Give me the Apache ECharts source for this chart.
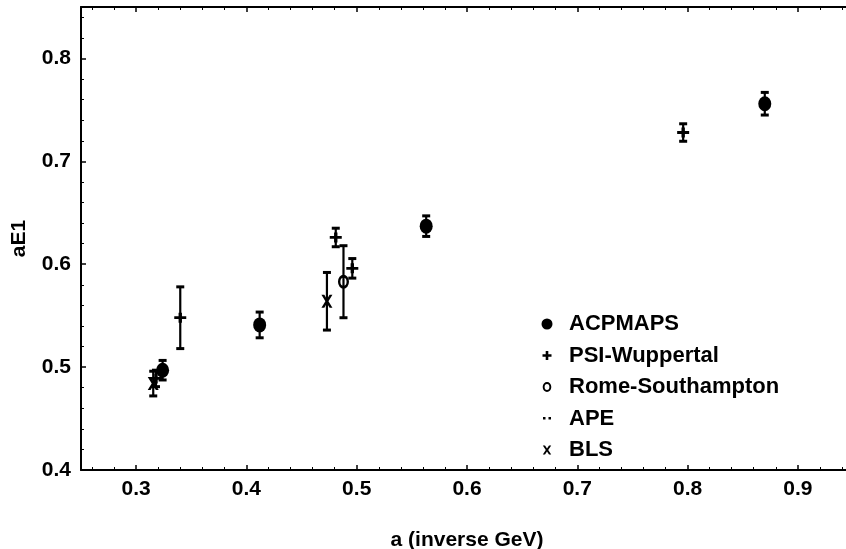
<!DOCTYPE html>
<html><head><meta charset="utf-8">
<script src="https://cdn.jsdelivr.net/npm/echarts@6/dist/echarts.min.js"></script>
<style>html,body{margin:0;padding:0;background:#fff}#c{width:846px;height:549px}</style>
</head><body><div id="c"></div>
<script>
// ---- data ----
const xTickValues = [0.3, 0.4, 0.5, 0.6, 0.7, 0.8, 0.9];
const yTickValues = [0.4, 0.5, 0.6, 0.7, 0.8];
const seriesNames = ['ACPMAPS', 'PSI-Wuppertal', 'Rome-Southampton', 'APE', 'BLS'];

const acpX = [0.324, 0.412, 0.563, 0.870];
const acpY = [0.497, 0.541, 0.637, 0.756];
const acpErr = [0.0095, 0.0125, 0.010, 0.011];

const psiX = [0.318, 0.340, 0.481, 0.496, 0.796];
const psiY = [0.489, 0.548, 0.626, 0.596, 0.728];
const psiErr = [0.008, 0.030, 0.009, 0.0095, 0.0085];

const romeX = [0.488];
const romeY = [0.583];
const romeErr = [0.035];

const apeX = [];
const apeY = [];
const apeErr = [];

const blsX = [0.3155, 0.473];
const blsY = [0.484, 0.564];
const blsErr = [0.012, 0.028];

// ---- styling ----
const FONT = 'Liberation Sans, Arial, Helvetica, sans-serif';
const txt = {fontFamily: FONT, fontSize: 21, fontWeight: 'bold', color: '#000'};

const legendIcons = [
  'path://M0,0M24,14M7,1.5A5.5,5.5,0,1,1,7,12.5A5.5,5.5,0,1,1,7,1.5Z',
  'path://M0,0M24,14M5.7,2.5H8.3V5.7H11.5V8.3H8.3V11.5H5.7V8.3H2.5V5.7H5.7Z',
  'path://M0,0M24,14M7,2A4.3,5,0,1,1,7,12A4.3,5,0,1,1,7,2ZM7,4A2.4,3,0,1,0,7,10A2.4,3,0,1,0,7,4Z',
  'path://M0,0M24,14M3,5.5h2.5v2.5h-2.5zM8.5,5.5h2.5v2.5h-2.5z',
  'path://M0,0M24,14M2.8,2.5L5,2.5L7,5.4L9,2.5L11.2,2.5L8.2,7L11.2,11.5L9,11.5L7,8.6L5,11.5L2.8,11.5L5.8,7Z'
];
const plotSymbols = {
  acp: 'circle',
  psi: 'path://M3.6,0H6.4V3.6H10V6.4H6.4V10H3.6V6.4H0V3.6H3.6Z',
  rome: 'path://M5,0A5,5,0,1,1,5,10A5,5,0,1,1,5,0ZM5,2.2A2.8,2.8,0,1,0,5,7.8A2.8,2.8,0,1,0,5,2.2Z',
  bls: 'path://M0,0L2.6,0L5,3.4L7.4,0L10,0L6.4,5L10,10L7.4,10L5,6.6L2.6,10L0,10L3.6,5Z'
};

function pts(xs, ys) { return xs.map((x, i) => [x, ys[i]]); }
function errs(xs, ys, es) { return xs.map((x, i) => [x, ys[i] - es[i], ys[i] + es[i]]); }

function errRender(params, api) {
  const x = api.value(0), lo = api.value(1), hi = api.value(2);
  const a = api.coord([x, lo]), b = api.coord([x, hi]);
  const w = 4;
  return {
    type: 'group',
    children: [
      {type: 'line', shape: {x1: a[0], y1: a[1], x2: b[0], y2: b[1]}, style: {stroke: '#000', lineWidth: 2.2}},
      {type: 'line', shape: {x1: a[0] - w, y1: a[1], x2: a[0] + w, y2: a[1]}, style: {stroke: '#000', lineWidth: 3}},
      {type: 'line', shape: {x1: b[0] - w, y1: b[1], x2: b[0] + w, y2: b[1]}, style: {stroke: '#000', lineWidth: 3}}
    ]
  };
}
function errSeries(data) {
  return {type: 'custom', renderItem: errRender, data: data, encode: {x: 0, y: [1, 2]},
          silent: true, z: 2};
}

const axisLineStyle = {color: '#000', width: 2};
function xAxisCfg(pos, showLabels) {
  return {
    type: 'value', position: pos, min: 0.25, max: 0.95, splitNumber: 7,
    axisLine: {show: true, onZero: false, lineStyle: axisLineStyle},
    axisTick: {show: true, inside: true, length: 5, lineStyle: {color: '#000', width: 1.5}},
    minorTick: {show: true, splitNumber: 5, length: 3, lineStyle: {color: '#000', width: 1}},
    splitLine: {show: false}, minorSplitLine: {show: false},
    axisLabel: {show: showLabels, margin: 9, customValues: xTickValues,
                formatter: v => v.toFixed(1), ...txt},
    name: showLabels ? 'a (inverse GeV)' : '', nameLocation: 'middle', nameGap: 60,
    nameTextStyle: txt
  };
}
const mk = {color: '#000', opacity: 1, borderWidth: 0};

const chart = echarts.init(document.getElementById('c'), null, {renderer: 'canvas'});
chart.setOption({
  animation: false,
  backgroundColor: '#fff',
  grid: {left: 81, top: 7, right: -7, bottom: 79, outerBoundsMode: 'none', containLabel: false},
  xAxis: [xAxisCfg('bottom', true), xAxisCfg('top', false)],
  yAxis: [{
    type: 'value', min: 0.4, max: 0.85, interval: 0.1,
    axisLine: {show: true, onZero: false, lineStyle: axisLineStyle},
    axisTick: {show: true, inside: true, length: 5, lineStyle: {color: '#000', width: 1.5}},
    minorTick: {show: true, splitNumber: 5, length: 3, lineStyle: {color: '#000', width: 1}},
    splitLine: {show: false}, minorSplitLine: {show: false},
    axisLabel: {margin: 10, customValues: yTickValues, formatter: v => v.toFixed(1), ...txt},
    name: 'aE1', nameLocation: 'middle', nameGap: 51, nameRotate: 90, nameTextStyle: txt
  }],
  legend: {
    orient: 'vertical', left: 535, top: 308, itemWidth: 24, itemHeight: 14, itemGap: 9.5,
    selectedMode: false,
    textStyle: {...txt, fontSize: 22, lineHeight: 22},
    data: seriesNames.map((n, i) => ({name: n, icon: legendIcons[i], itemStyle: {color: '#000', opacity: 1}}))
  },
  series: [
    errSeries(errs(acpX, acpY, acpErr)),
    errSeries(errs(psiX, psiY, psiErr)),
    errSeries(errs(romeX, romeY, romeErr)),
    errSeries(errs(blsX, blsY, blsErr)),
    {name: seriesNames[0], type: 'scatter', data: pts(acpX, acpY), symbol: plotSymbols.acp,
     symbolSize: [13, 15], itemStyle: mk, z: 3, silent: true},
    {name: seriesNames[1], type: 'scatter', data: pts(psiX, psiY), symbol: plotSymbols.psi,
     symbolSize: [12, 10], itemStyle: mk, z: 3, silent: true},
    {name: seriesNames[2], type: 'scatter', data: pts(romeX, romeY), symbol: plotSymbols.rome,
     symbolSize: [11, 14], itemStyle: mk, z: 3, silent: true},
    {name: seriesNames[3], type: 'scatter', data: pts(apeX, apeY), symbol: 'circle',
     symbolSize: 3, itemStyle: mk, z: 3, silent: true},
    {name: seriesNames[4], type: 'scatter', data: pts(blsX, blsY), symbol: plotSymbols.bls,
     symbolSize: [11, 13], itemStyle: mk, z: 3, silent: true}
  ]
});
</script></body></html>
